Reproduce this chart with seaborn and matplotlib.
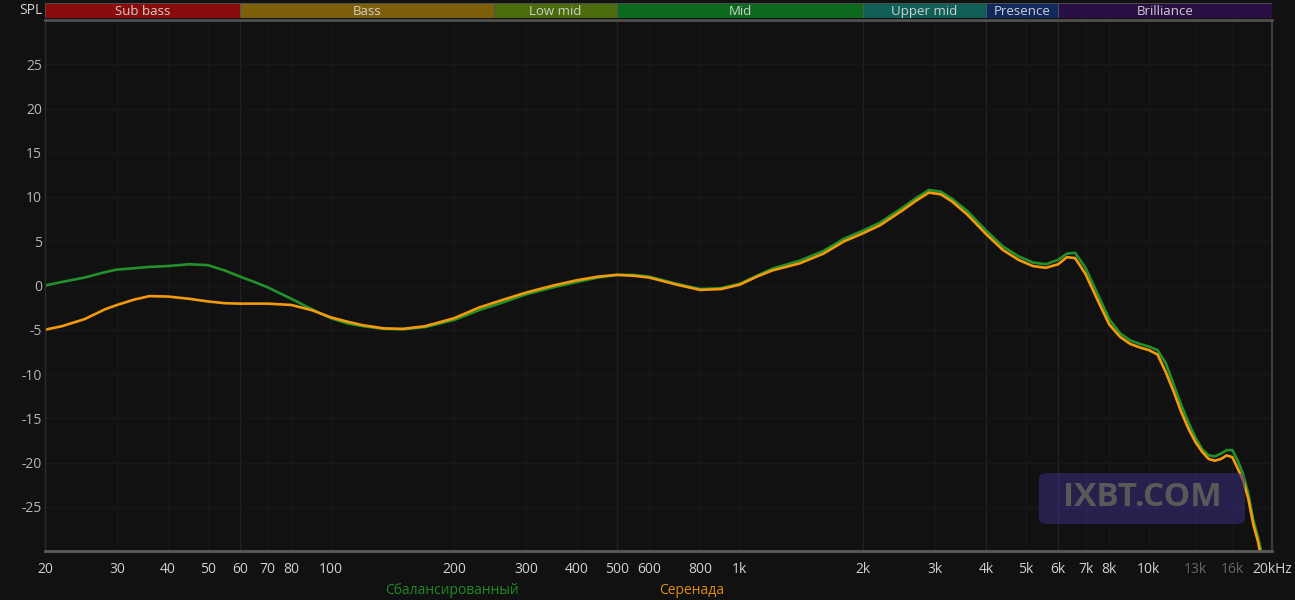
import pandas as pd
import seaborn as sns
import matplotlib.pyplot as plt
from matplotlib.patches import FancyBboxPatch
from matplotlib.ticker import NullLocator

# frequency points (Hz)
freq = [20, 22, 25, 28, 30, 33, 36, 40, 45, 50, 55, 60, 65, 70, 80, 90, 100, 110, 120, 135,
        150, 170, 200, 230, 260, 300, 350, 400, 450, 500, 550, 600, 700, 800, 900, 1000,
        1100, 1200, 1400, 1600, 1800, 2000, 2200, 2500, 2700, 2900, 3100, 3300, 3600, 4000,
        4400, 4800, 5200, 5600, 6000, 6300, 6600, 7000, 7500, 8000, 8500, 9000, 9500, 10000,
        10500, 11000, 11500, 12000, 12500, 13000, 13500, 14000, 14500, 15000, 15500, 16000,
        16500, 17000, 17500, 18000, 18500, 19000, 20000]

balanced = [0.0, 0.4, 0.9, 1.5, 1.8, 1.95, 2.1, 2.2, 2.4, 2.3, 1.7, 1.0, 0.4, -0.2, -1.5, -2.7,
            -3.7, -4.3, -4.6, -4.9, -4.95, -4.7, -3.9, -2.8, -2.0, -1.0, -0.2, 0.4, 0.9, 1.2,
            1.2, 1.0, 0.2, -0.4, -0.3, 0.2, 1.1, 1.9, 2.8, 3.9, 5.3, 6.2, 7.1, 8.8, 9.9, 10.8,
            10.6, 9.8, 8.4, 6.2, 4.4, 3.3, 2.6, 2.4, 2.9, 3.6, 3.7, 2.0, -1.0, -3.8, -5.4, -6.2,
            -6.6, -6.9, -7.3, -8.8, -11.2, -13.5, -15.5, -17.2, -18.5, -19.2, -19.3, -19.0,
            -18.6, -18.6, -19.8, -21.3, -23.5, -26.5, -28.5, -31.0, -35.0]

serenada = [-5.0, -4.6, -3.8, -2.7, -2.2, -1.6, -1.2, -1.25, -1.5, -1.8, -2.0, -2.05, -2.05,
            -2.05, -2.2, -2.8, -3.6, -4.1, -4.5, -4.85, -4.9, -4.6, -3.7, -2.5, -1.7, -0.8,
            0.0, 0.6, 1.0, 1.2, 1.1, 0.9, 0.1, -0.5, -0.4, 0.1, 1.0, 1.7, 2.5, 3.6, 5.0, 5.9,
            6.8, 8.5, 9.6, 10.5, 10.3, 9.5, 8.0, 5.8, 4.0, 2.9, 2.2, 2.0, 2.4, 3.2, 3.1, 1.3,
            -1.7, -4.4, -5.8, -6.6, -7.0, -7.3, -7.8, -9.8, -12.0, -14.3, -16.2, -17.7, -18.8,
            -19.6, -19.8, -19.6, -19.2, -19.4, -20.7, -22.0, -24.1, -27.0, -29.0, -32.0, -36.0]

series_names = ["Сбалансированный", "Серенада"]
series_colors = ["#22912b", "#f59a0c"]
legend_colors = ["#1f8a26", "#e08a10"]

band_names = ["Sub bass", "Bass", "Low mid", "Mid", "Upper mid", "Presence", "Brilliance"]
band_edges = [20, 60, 250, 500, 2000, 4000, 6000, 20000]
band_colors = ["#8a0b0b", "#7f600a", "#4b6b0c", "#0c6a1e", "#0f5f56", "#12295e", "#2a0f45"]

tick_freqs = [20, 30, 40, 50, 60, 70, 80, 100, 200, 300, 400, 500, 600, 800, 1000, 2000,
              3000, 4000, 5000, 6000, 7000, 8000, 10000, 13000, 16000, 20000]
tick_labels = ["20", "30", "40", "50", "60", "70", "80", "100", "200", "300", "400", "500",
               "600", "800", "1k", "2k", "3k", "4k", "5k", "6k", "7k", "8k", "10k", "13k",
               "16k", "20kHz"]
dim_labels = ["13k", "16k"]
y_ticks = [-25, -20, -15, -10, -5, 0, 5, 10, 15, 20, 25]

df = pd.concat([
    pd.DataFrame({"freq": freq, "spl": balanced, "name": series_names[0]}),
    pd.DataFrame({"freq": freq, "spl": serenada, "name": series_names[1]}),
])

sns.set_style("dark")
plt.rcParams['font.family'] = ['Open Sans', 'DejaVu Sans']
bg = "#111111"

W, H = 1295, 600
fig = plt.figure(figsize=(W / 100, H / 100), dpi=100, facecolor=bg)
ax = fig.add_axes([45 / W, 49 / H, 1227 / W, 531 / H], facecolor=bg)

# faint grid, band borders a touch brighter
for f in tick_freqs:
    ax.axvline(f, color="#222222" if f in band_edges else "#171717", lw=1, zorder=0)
for v in y_ticks:
    ax.axhline(v, color="#181818", lw=1, zorder=0)

sns.lineplot(data=df, x="freq", y="spl", hue="name", hue_order=series_names,
             palette=dict(zip(series_names, series_colors)), linewidth=1.9,
             legend=False, sort=False, ax=ax)

ax.set_xscale("log")
ax.set_xlim(20, 20000)
ax.set_ylim(-30, 30)
ax.set_xlabel("")
ax.set_ylabel("")
ax.set_xticks(tick_freqs, tick_labels)
ax.xaxis.set_minor_locator(NullLocator())
ax.set_yticks(y_ticks, [str(v) for v in y_ticks])
ax.tick_params(axis="both", length=0, labelsize=10, colors="#d0d0d0")
ax.tick_params(axis="x", pad=8)
ax.tick_params(axis="y", pad=2, labelcolor="#b5b5b5")
for lab in ax.get_xticklabels():
    if lab.get_text() in dim_labels:
        lab.set_color("#666666")
ax.grid(False)

for side, col, lw in [("left", "#2a2a2a", 1), ("bottom", "#5a5a5a", 2),
                      ("right", "#3c3c3c", 1.5), ("top", "#505050", 2)]:
    ax.spines[side].set_visible(True)
    ax.spines[side].set_color(col)
    ax.spines[side].set_linewidth(lw)

# frequency band strip on top
bax = fig.add_axes([45 / W, 582 / H, 1227 / W, 15 / H], facecolor=bg)
bax.set_xscale("log")
bax.set_xlim(20, 20000)
bax.set_ylim(0, 1)
for lo, hi, name, col in zip(band_edges[:-1], band_edges[1:], band_names, band_colors):
    bax.axvspan(lo, hi, color=col, ec="#555555", lw=0.6)
    bax.text((lo * hi) ** 0.5, 0.45, name, ha="center", va="center", fontsize=9.5,
             color="#cfcfcf")
bax.axis("off")

fig.text(43 / W, 1 - 10 / H, "SPL", ha="right", va="center", fontsize=10, color="#d0d0d0")

# series names under the axis
fig.text(452 / W, 1 - 590 / H, series_names[0], ha="center", va="center", fontsize=10,
         color=legend_colors[0])
fig.text(692 / W, 1 - 590 / H, series_names[1], ha="center", va="center", fontsize=10,
         color=legend_colors[1])

# watermark
box = FancyBboxPatch((1039 / W, 76 / H), 206 / W, 51 / H, boxstyle="round,pad=0,rounding_size=0.008",
                     transform=fig.transFigure, facecolor=(0.22, 0.18, 0.5), alpha=0.55,
                     edgecolor="none", zorder=5)
fig.patches.append(box)
fig.text(1142 / W, 1 - 498 / H, "IXBT.COM", ha="center", va="center", fontsize=24,
         fontweight="bold", color="#595959", zorder=6)

fig.savefig("out.png", dpi=100, facecolor=bg)
